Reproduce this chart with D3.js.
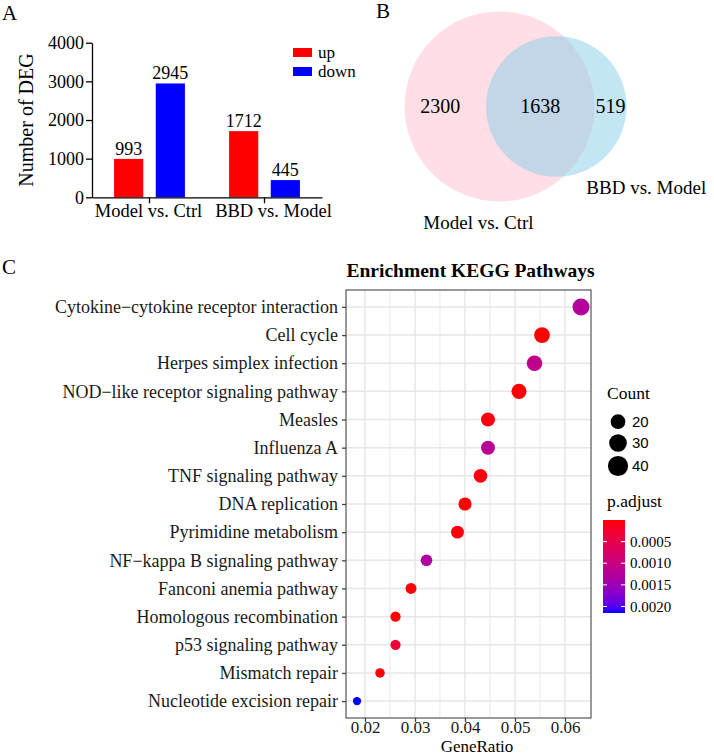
<!DOCTYPE html>
<html>
<head>
<meta charset="utf-8">
<script src="https://cdn.jsdelivr.net/npm/d3@7"></script>
<style>
  html, body { margin: 0; padding: 0; background: #fff; }
  svg { display: block; }
  .serif { font-family: "Liberation Serif", "Times New Roman", serif; }
  .sans { font-family: "Liberation Sans", Arial, sans-serif; }
</style>
</head>
<body>
<svg id="fig" width="714" height="755"></svg>
<script>
// ---------- Panel A data ----------
const groups = ["Model vs. Ctrl", "BBD vs. Model"];
const directions = ["up", "down"];
const upValues = [993, 1712];
const downValues = [2945, 445];
const yTicksA = [0, 1000, 2000, 3000, 4000];
const dirColors = ["#ff0000", "#0000ff"];

// ---------- Panel B data ----------
const vennSets = ["Model vs. Ctrl", "BBD vs. Model"];
const vennOnly = [2300, 519];
const vennShared = 1638;

// ---------- Panel C data ----------
const categories = [
  "Cytokine\u2212cytokine receptor interaction",
  "Cell cycle",
  "Herpes simplex infection",
  "NOD\u2212like receptor signaling pathway",
  "Measles",
  "Influenza A",
  "TNF signaling pathway",
  "DNA replication",
  "Pyrimidine metabolism",
  "NF\u2212kappa B signaling pathway",
  "Fanconi anemia pathway",
  "Homologous recombination",
  "p53 signaling pathway",
  "Mismatch repair",
  "Nucleotide excision repair"
];
const geneRatio = [0.0632, 0.0554, 0.0539, 0.0508, 0.0446, 0.0446, 0.0431, 0.0400, 0.0385, 0.0323, 0.0292, 0.0261, 0.0261, 0.0230, 0.0184];
const counts    = [41, 36, 35, 33, 29, 29, 28, 26, 25, 21, 19, 17, 17, 15, 12];
const pAdjust   = [0.00125, 0.000002, 0.00110, 0.00001, 0.00005, 0.00120, 0.00006, 0.000001, 0.00004, 0.00130, 0.00002, 0.00001, 0.00030, 0.00003, 0.00215];
const ratioTicks = [0.02, 0.03, 0.04, 0.05, 0.06];
const ratioMinor = [0.025, 0.035, 0.045, 0.055];
const countBreaks = [20, 30, 40];
const pBreaks = [0.0005, 0.0010, 0.0015, 0.0020];

const svg = d3.select("#fig");
svg.append("rect").attr("width", 714).attr("height", 755).attr("fill", "#fff");

// =============== Panel A ===============
(function panelA() {
  const g = svg.append("g").attr("class", "serif");
  g.append("text").attr("x", 2).attr("y", 20).attr("font-size", 21).text("A");

  const x0 = d3.scaleBand().domain(groups).range([92, 322]);
  const x1 = d3.scaleBand().domain(directions).range([0, x0.bandwidth()])
    .paddingInner(0.3).paddingOuter(0.53);
  const y = d3.scaleLinear().domain([0, 4000]).range([197.3, 42.7]);

  const rows = groups.map((grp, i) => ({ grp, vals: [upValues[i], downValues[i]] }));
  const gg = g.selectAll("g.grp").data(rows).join("g")
    .attr("transform", d => `translate(${x0(d.grp)},0)`);
  gg.selectAll("rect").data(d => d.vals.map((v, j) => ({ dir: directions[j], v, j })))
    .join("rect")
    .attr("x", d => x1(d.dir)).attr("width", x1.bandwidth())
    .attr("y", d => y(d.v)).attr("height", d => y(0) - y(d.v))
    .attr("fill", d => dirColors[d.j]);
  gg.selectAll("text.val").data(d => d.vals.map((v, j) => ({ dir: directions[j], v })))
    .join("text").attr("class", "val")
    .attr("x", d => x1(d.dir) + x1.bandwidth() / 2)
    .attr("y", d => y(d.v) - 4)
    .attr("text-anchor", "middle").attr("font-size", 18)
    .text(d => d.v);

  const yAxis = g.append("g").attr("transform", "translate(92,0)")
    .call(d3.axisLeft(y).tickValues(yTicksA).tickSize(6).tickSizeOuter(0).tickPadding(2).tickFormat(d3.format("d")));
  yAxis.selectAll("text").attr("font-size", 18).attr("font-family", "Liberation Serif");
  yAxis.selectAll("line,path").attr("stroke", "#000").attr("stroke-width", 1.3);

  const xAxis = g.append("g").attr("transform", `translate(0,${y(0)})`)
    .call(d3.axisBottom(x0).tickSize(6).tickSizeOuter(0).tickPadding(1));
  xAxis.selectAll("text").attr("font-size", 18.5).attr("font-family", "Liberation Serif")
    .attr("dx", (d, i) => i === 1 ? 9 : -1);
  xAxis.selectAll("line,path").attr("stroke", "#000").attr("stroke-width", 1.3);

  g.append("text")
    .attr("transform", `translate(33,${(y(0) + y(4000)) / 2}) rotate(-90)`)
    .attr("text-anchor", "middle").attr("font-size", 20).text("Number of DEG");

  // legend
  const lg = g.append("g");
  directions.forEach((d, i) => {
    lg.append("rect").attr("x", 293).attr("y", 48 + i * 19).attr("width", 19).attr("height", 9)
      .attr("fill", dirColors[i]);
    lg.append("text").attr("x", 318).attr("y", 53 + i * 19).attr("dy", "0.32em")
      .attr("font-size", 17).text(d);
  });
})();

// =============== Panel B ===============
(function panelB() {
  const g = svg.append("g").attr("class", "serif");
  g.append("text").attr("x", 376).attr("y", 18).attr("font-size", 21).text("B");

  const total = [vennOnly[0] + vennShared, vennOnly[1] + vennShared];
  const rScale = d3.scaleSqrt().domain([0, total[0]]).range([0, 95]);
  const r1 = rScale(total[0]), r2 = rScale(total[1]);
  const pxPerUnit = Math.PI * r1 * r1 / total[0];
  const targetArea = vennShared * pxPerUnit;
  function lens(d) {
    const a1 = Math.acos(Math.max(-1, Math.min(1, (d * d + r1 * r1 - r2 * r2) / (2 * d * r1))));
    const a2 = Math.acos(Math.max(-1, Math.min(1, (d * d + r2 * r2 - r1 * r1) / (2 * d * r2))));
    const s = Math.sqrt(Math.max(0, (-d + r1 + r2) * (d + r1 - r2) * (d - r1 + r2) * (d + r1 + r2)));
    return r1 * r1 * a1 + r2 * r2 * a2 - 0.5 * s;
  }
  let lo = r1 - r2, hi = r1 + r2;
  for (let k = 0; k < 60; k++) {
    const mid = (lo + hi) / 2;
    if (lens(mid) > targetArea) lo = mid; else hi = mid;
  }
  const dist = (lo + hi) / 2;
  const cy = 106.5;
  const cx1 = 499.5, cx2 = cx1 + dist;

  g.append("circle").attr("cx", cx1).attr("cy", cy).attr("r", r1)
    .attr("fill", "#ffc0cb").attr("fill-opacity", 0.5);
  g.append("circle").attr("cx", cx2).attr("cy", cy).attr("r", r2)
    .attr("fill", "#87ceeb").attr("fill-opacity", 0.5);

  const labX = [
    (cx1 - r1 + cx2 - r2) / 2 - 5,
    (cx2 - r2 + cx1 + r1) / 2,
    (cx1 + r1 + cx2 + r2) / 2
  ];
  const labV = [vennOnly[0], vennShared, vennOnly[1]];
  labV.forEach((v, i) => {
    g.append("text").attr("x", labX[i]).attr("y", cy).attr("dy", "0.34em")
      .attr("text-anchor", "middle").attr("font-size", 20).text(v);
  });
  g.append("text").attr("x", cx1 - 21).attr("y", cy + r1 + 27)
    .attr("text-anchor", "middle").attr("font-size", 19).text(vennSets[0]);
  g.append("text").attr("x", cx2 + 90).attr("y", cy + r2 + 17)
    .attr("text-anchor", "middle").attr("font-size", 19).text(vennSets[1]);
})();

// =============== Panel C ===============
(function panelC() {
  const g = svg.append("g").attr("class", "serif");
  g.append("text").attr("x", 2).attr("y", 274).attr("font-size", 21).text("C");

  const left = 346, right = 591, top = 290, bottom = 718;
  const x = d3.scaleLinear().domain([0.02, 0.06]).range([365, 565]);
  const y = d3.scalePoint().domain(categories).range([top, bottom]).padding(0.6);
  const size = d3.scaleSqrt().domain(d3.extent(counts)).range([4.15, 8.5]);
  const pMin = d3.min(pAdjust), pMax = d3.max(pAdjust);
  const color = d3.scaleLinear().domain([pMin, pMax]).range(["#ff0000", "#0000ff"])
    .interpolate(d3.interpolateLab);

  g.append("text").attr("x", 346.5).attr("y", 277).attr("font-size", 19.5)
    .attr("font-weight", "bold").text("Enrichment KEGG Pathways");

  // grid
  const grid = g.append("g");
  grid.selectAll("line.minor").data(ratioMinor).join("line")
    .attr("x1", d => x(d)).attr("x2", d => x(d)).attr("y1", top).attr("y2", bottom)
    .attr("stroke", "#ececec").attr("stroke-width", 1.2);
  grid.selectAll("line.majx").data(ratioTicks).join("line")
    .attr("x1", d => x(d)).attr("x2", d => x(d)).attr("y1", top).attr("y2", bottom)
    .attr("stroke", "#e6e6e6").attr("stroke-width", 1.5);
  grid.selectAll("line.majy").data(categories).join("line")
    .attr("x1", left).attr("x2", right).attr("y1", d => y(d)).attr("y2", d => y(d))
    .attr("stroke", "#e6e6e6").attr("stroke-width", 1.5);

  // dots
  const pts = categories.map((c, i) => ({ c, r: geneRatio[i], n: counts[i], p: pAdjust[i] }));
  g.append("g").selectAll("circle").data(pts).join("circle")
    .attr("cx", d => x(d.r)).attr("cy", d => y(d.c)).attr("r", d => size(d.n))
    .attr("fill", d => color(d.p));

  // border
  g.append("rect").attr("x", left).attr("y", top).attr("width", right - left).attr("height", bottom - top)
    .attr("fill", "none").attr("stroke", "#555").attr("stroke-width", 1.2);

  // axes
  const ya = g.append("g").attr("transform", `translate(${left},0)`)
    .call(d3.axisLeft(y).tickSize(4).tickPadding(4));
  ya.select(".domain").remove();
  ya.selectAll("line").attr("stroke", "#444").attr("stroke-width", 1.3);
  ya.selectAll("text").attr("font-size", 18).attr("font-family", "Liberation Serif").attr("fill", "#1a1a1a");

  const xa = g.append("g").attr("transform", `translate(0,${bottom})`)
    .call(d3.axisBottom(x).tickValues(ratioTicks).tickFormat(d3.format(".2f")).tickSize(4).tickPadding(0));
  xa.select(".domain").remove();
  xa.selectAll("line").attr("stroke", "#444").attr("stroke-width", 1.3);
  xa.selectAll("text").attr("font-size", 17).attr("dy", "0.64em")
    .attr("font-family", "Liberation Serif").attr("fill", "#1a1a1a");

  g.append("text").attr("x", 477).attr("y", 752).attr("text-anchor", "middle")
    .attr("font-size", 17).text("GeneRatio");

  // Count legend
  const lg = g.append("g");
  lg.append("text").attr("x", 607).attr("y", 399).attr("font-size", 17.5).text("Count");
  const ly = [421.7, 443, 466];
  countBreaks.forEach((b, i) => {
    lg.append("circle").attr("cx", 618).attr("cy", ly[i]).attr("r", size(b))
      .attr("fill", "#000").attr("stroke", "#000").attr("stroke-width", 3.4);
    lg.append("text").attr("class", "sans").attr("x", 632).attr("y", ly[i]).attr("dy", "0.35em")
      .attr("font-size", 15).text(b);
  });

  // p.adjust colorbar
  lg.append("text").attr("x", 607).attr("y", 507).attr("font-size", 17.5).text("p.adjust");
  const cb = d3.scaleLinear().domain([pMin, pMax]).range([520, 613]);
  const defs = svg.append("defs");
  const grad = defs.append("linearGradient").attr("id", "pgrad")
    .attr("x1", 0).attr("y1", 0).attr("x2", 0).attr("y2", 1);
  d3.range(0, 1.0001, 0.05).forEach(t => {
    grad.append("stop").attr("offset", t).attr("stop-color", color(pMin + t * (pMax - pMin)));
  });
  const cbx = 603, cbw = 22;
  lg.append("rect").attr("x", cbx).attr("y", cb(pMin)).attr("width", cbw)
    .attr("height", cb(pMax) - cb(pMin)).attr("fill", "url(#pgrad)");
  pBreaks.forEach(b => {
    lg.append("line").attr("x1", cbx).attr("x2", cbx + 4).attr("y1", cb(b)).attr("y2", cb(b))
      .attr("stroke", "#fff").attr("stroke-width", 1);
    lg.append("line").attr("x1", cbx + cbw - 4).attr("x2", cbx + cbw).attr("y1", cb(b)).attr("y2", cb(b))
      .attr("stroke", "#fff").attr("stroke-width", 1);
    lg.append("text").attr("x", 630).attr("y", cb(b)).attr("dy", "0.35em")
      .attr("font-size", 15).text(d3.format(".4f")(b));
  });
})();
</script>
</body>
</html>
